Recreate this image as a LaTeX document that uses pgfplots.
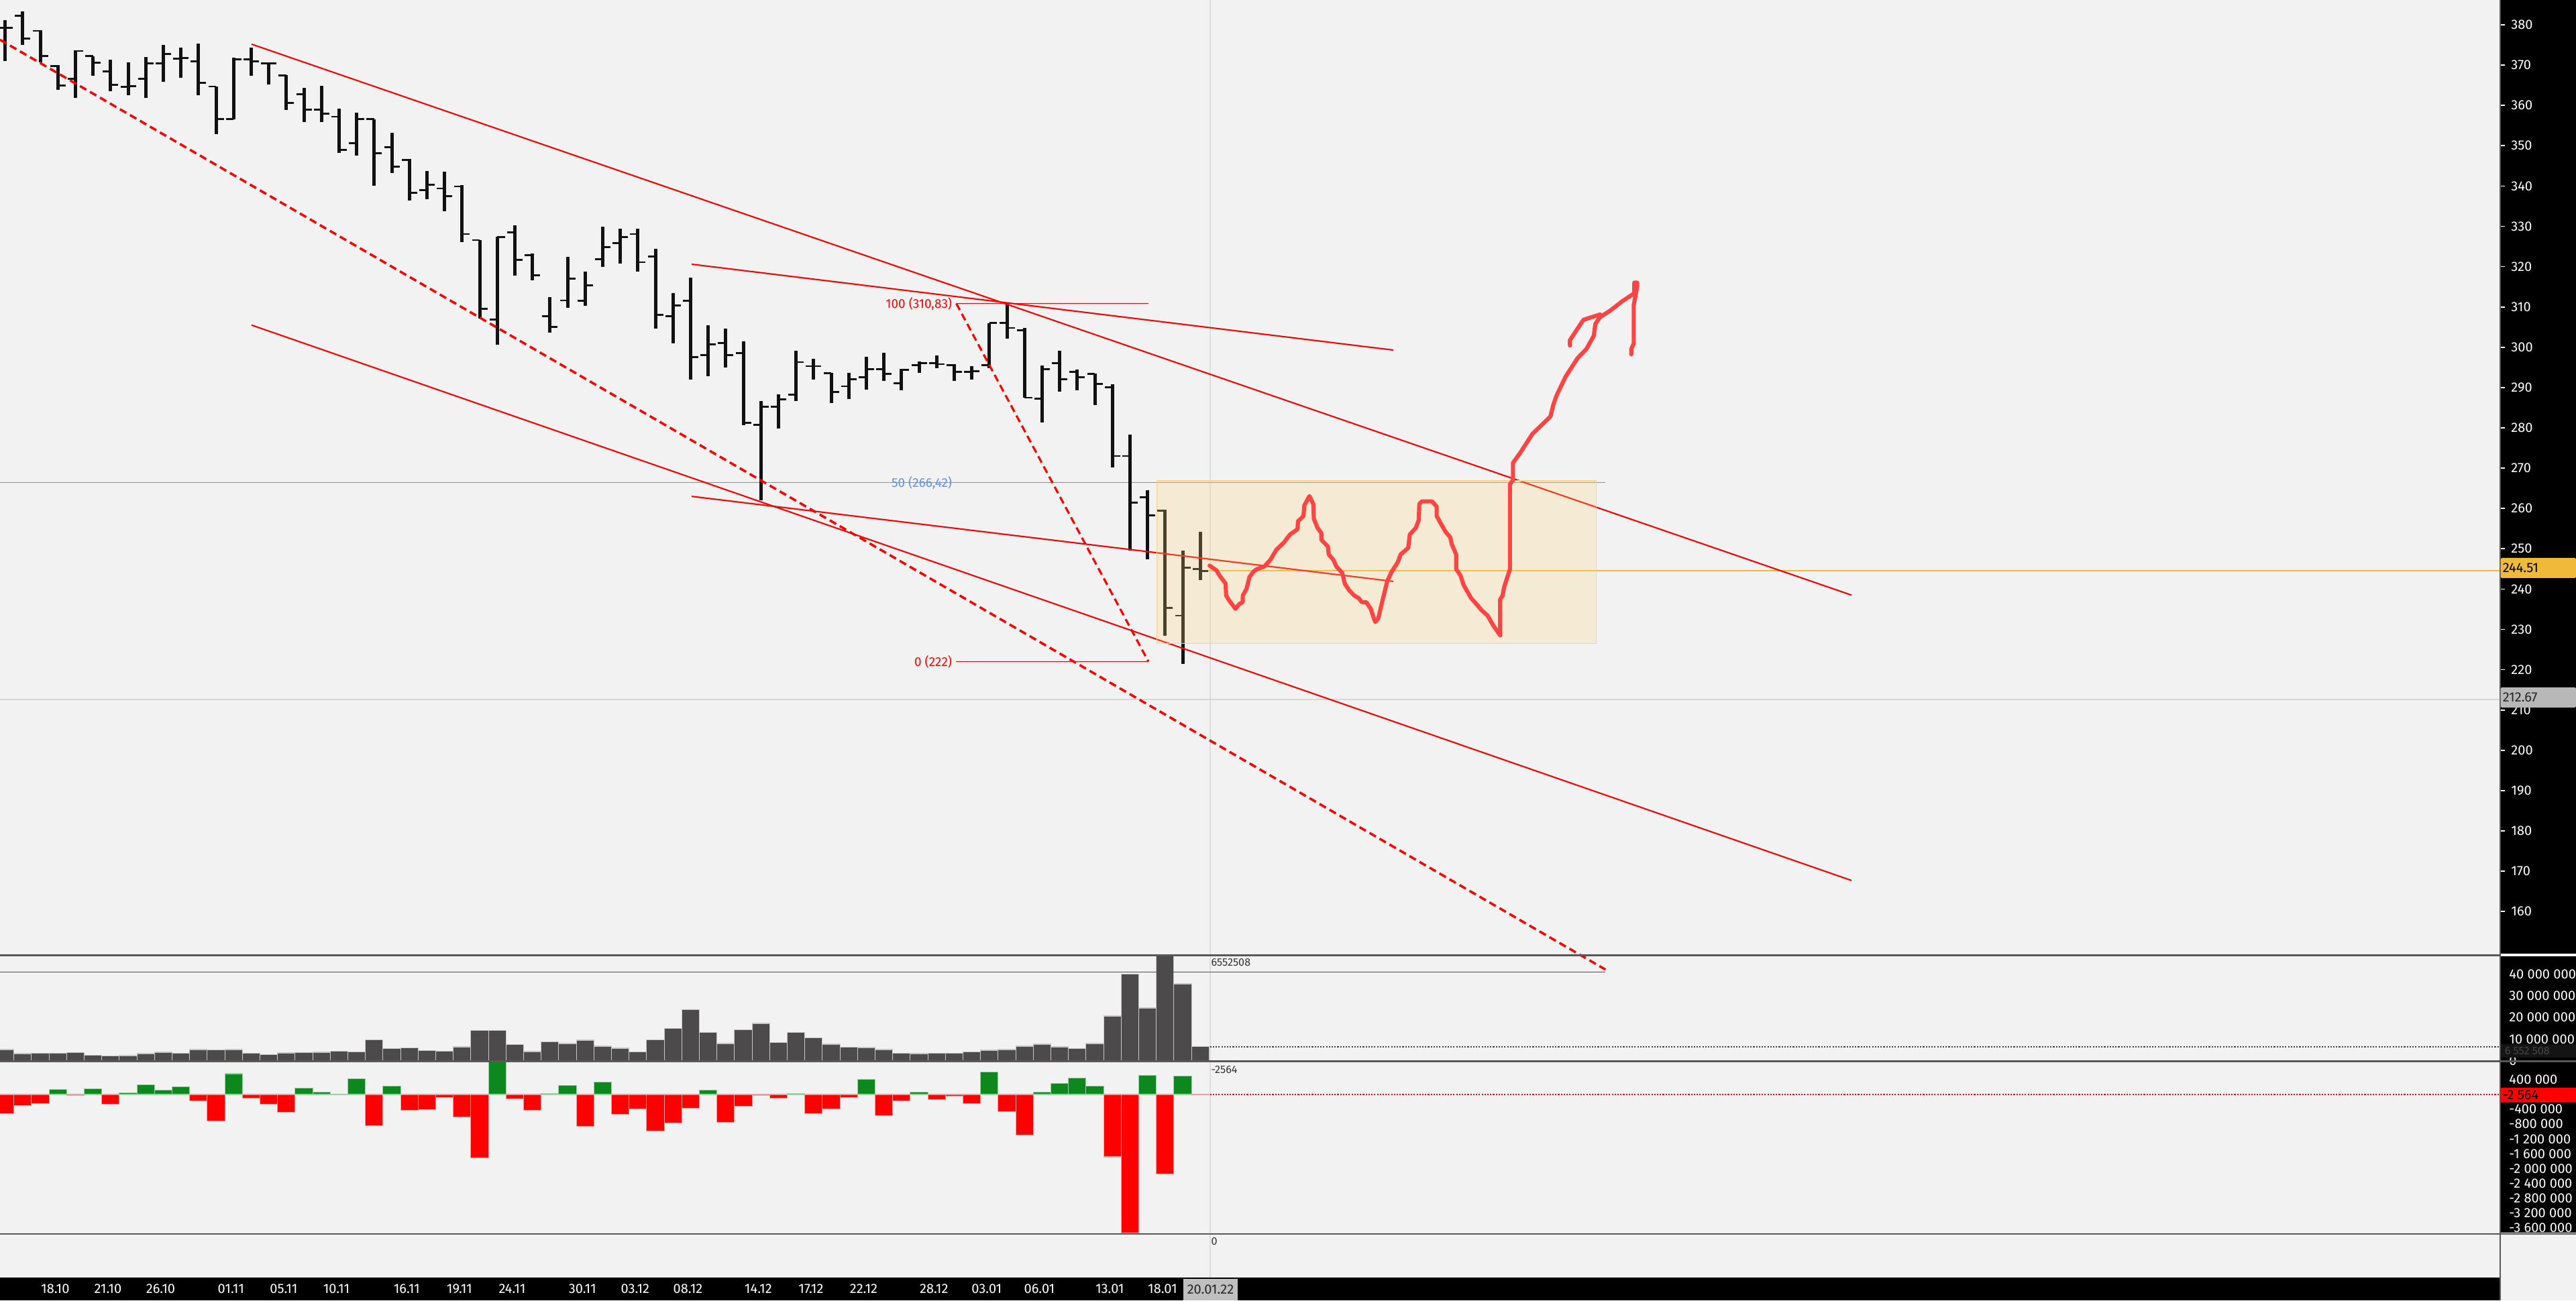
\documentclass[border=0pt]{standalone}
\usepackage{pgfplots}
\pgfplotsset{compat=1.18}
\usepackage{pgfplotstable}
\usepackage{fontspec}
\setmainfont{Fira Sans}
\definecolor{bg}{RGB}{242,242,242}
\definecolor{barblk}{RGB}{17,17,17}
\definecolor{lred}{RGB}{255,0,0}
\definecolor{penred}{RGB}{255,68,68}
\definecolor{fibblue}{RGB}{95,145,240}
\definecolor{volgray}{RGB}{76,74,74}
\definecolor{dgreen}{RGB}{12,136,30}
\definecolor{gold}{RGB}{240,186,56}
\definecolor{rectfill}{RGB}{255,214,120}
\definecolor{rectedge}{RGB}{250,212,140}
\definecolor{sep}{RGB}{88,88,88}
\newcommand\axfont{\fontsize{5.7pt}{6.4pt}\selectfont}
\newcommand\fibfont{\fontsize{5.4pt}{6pt}\selectfont}
\newcommand\smfont{\fontsize{4.6pt}{5pt}\selectfont}

\pgfplotstableread{
i o h l c
-3 379.3 381.2 371.0 379.3
-2 382.3 383.4 375.0 376.6
-1 378.5 378.6 370.7 372.2
0 369.8 370.0 363.9 365.0
1 366.6 373.7 361.8 373.5
2 372.2 372.2 367.4 370.6
3 368.5 371.4 363.5 365.1
4 364.6 370.7 362.6 364.8
5 366.6 372.0 361.9 370.4
6 370.4 375.0 365.9 372.7
7 371.6 374.3 366.8 371.8
8 370.9 375.3 362.6 365.6
9 364.7 364.7 352.9 356.6
10 356.6 371.8 356.6 371.4
11 371.4 374.3 367.4 371.0
12 370.5 370.7 365.2 370.5
13 367.4 367.6 358.9 360.6
14 362.8 364.3 355.9 358.9
15 358.9 364.8 355.8 357.9
16 357.2 359.2 348.2 349.0
17 350.6 358.2 347.5 356.6
18 356.6 356.6 340.1 348.1
19 349.6 353.2 343.2 344.8
20 346.5 346.8 336.4 338.3
21 339.0 343.8 336.8 340.3
22 339.4 343.5 333.8 337.5
23 339.9 340.3 326.1 328.1
24 326.6 326.6 307.2 309.6
25 306.9 327.4 300.6 327.3
26 328.5 330.3 317.7 321.7
27 322.8 323.3 316.6 317.9
28 307.7 312.5 303.6 305.1
29 311.6 322.5 309.8 317.0
30 311.5 318.8 310.3 315.4
31 321.9 329.9 319.9 324.8
32 325.8 329.4 320.8 327.3
33 328.1 329.4 318.8 321.1
34 322.5 324.4 304.6 308.0
35 307.7 313.5 300.9 310.4
36 311.5 317.2 291.9 297.6
37 298.0 305.4 292.8 300.7
38 301.1 304.7 294.9 298.0
39 298.6 301.5 280.7 281.2
40 280.7 286.6 262.0 285.3
41 285.3 288.3 279.9 287.1
42 288.3 299.1 286.6 296.3
43 295.3 297.2 292.0 295.3
44 293.5 293.7 286.1 288.9
45 290.3 293.7 287.1 292.1
46 292.5 297.6 289.5 294.6
47 294.6 298.6 291.7 293.4
48 291.0 294.6 289.4 294.4
49 295.5 296.5 293.7 296.0
50 296.0 297.9 294.8 295.8
51 295.5 295.8 291.7 293.9
52 293.9 295.3 292.0 294.1
53 295.5 306.0 294.8 306.0
54 306.0 310.8 302.1 304.8
55 304.2 304.8 287.5 287.5
56 287.3 295.5 281.4 294.6
57 296.0 299.2 289.0 292.1
58 293.9 294.4 289.3 292.5
59 293.4 293.4 285.6 290.9
60 290.1 290.8 270.2 273.0
61 273.0 278.4 249.6 261.5
62 262.8 264.5 247.4 258.3
63 259.5 259.7 228.4 235.3
64 233.4 249.6 221.5 245.3
65 245.0 254.2 242.3 244.5
}\ohlc

\pgfplotstableread{
i v
-3 5.25
-2 3.40
-1 3.60
0 3.60
1 3.91
2 2.67
3 2.26
4 2.47
5 3.40
6 4.01
7 3.50
8 5.25
9 5.14
10 5.25
11 3.60
12 2.98
13 3.70
14 3.81
15 4.01
16 4.53
17 4.12
18 9.77
19 5.76
20 6.07
21 4.84
22 4.53
23 6.48
24 14.09
25 14.09
26 7.51
27 4.32
28 8.85
29 8.02
30 9.57
31 6.79
32 5.86
33 4.12
34 9.77
35 15.02
36 23.66
37 13.17
38 8.02
39 14.40
40 17.28
41 8.54
42 13.17
43 10.70
44 7.72
45 6.28
46 6.17
47 5.25
48 3.60
49 3.40
50 3.60
51 3.60
52 4.12
53 4.94
54 5.25
55 6.79
56 7.72
57 6.48
58 5.76
59 8.02
60 20.68
61 39.92
62 24.38
63 60.00
64 35.49
65 6.55
}\vol

\pgfplotstableread{
i d
0 0.14
2 0.15
4 0.04
5 0.27
6 0.11
7 0.20
10 0.56
14 0.17
15 0.07
16 0.01
17 0.43
19 0.23
25 0.90
28 0.02
29 0.25
31 0.33
37 0.12
42 0.02
46 0.40
49 0.07
53 0.61
56 0.07
57 0.30
58 0.45
59 0.23
62 0.52
64 0.49
}\dpos

\pgfplotstableread{
i d
-3 -0.51
-2 -0.30
-1 -0.25
1 -0.03
3 -0.27
8 -0.17
9 -0.72
11 -0.10
12 -0.27
13 -0.48
18 -0.84
20 -0.43
21 -0.41
22 -0.08
23 -0.60
24 -1.70
26 -0.12
27 -0.42
30 -0.85
32 -0.53
33 -0.39
34 -0.99
35 -0.77
36 -0.37
38 -0.75
39 -0.32
40 -0.02
41 -0.10
43 -0.52
44 -0.39
45 -0.08
47 -0.57
48 -0.18
50 -0.14
51 -0.05
52 -0.24
54 -0.46
55 -1.10
60 -1.68
61 -3.73
63 -2.14
65 -0.0026
}\dneg

\begin{document}
\begin{tikzpicture}
\path[use as bounding box, fill=bg] (0,0) rectangle (38.40,19.39);
\fill[black] (37.27,5.17) rectangle (38.40,19.39);
\fill[black] (37.27,3.58) rectangle (38.40,5.13);
\fill[black] (37.27,1.01) rectangle (38.40,3.55);
\fill[black] (0,0) rectangle (37.27,0.34);

% ---------------- price panel
\begin{axis}[
 at={(0cm,5.16cm)}, anchor=south west, scale only axis,
 width=37.27cm, height=14.23cm,
 xmin=-3.292, xmax=138.96, ymin=149.38, ymax=386.16,
 clip=false,
 axis line style={draw=none},
 xtick=\empty,
 ytick={160,170,...,380},
 ytick pos=right, yticklabel pos=right,
 tick align=outside, major tick length=0.07cm,
 ytick style={white, line width=0.5pt},
 yticklabel style={text=white, font=\axfont, xshift=-0.03cm},
 /pgf/number format/assume math mode=true,
]
% crosshair and level lines
\addplot[black!13, line width=0.5pt] coordinates {(65.55,149.38) (65.55,386.16)};
\addplot[black!16, line width=0.5pt] coordinates {(-3.292,212.67) (138.96,212.67)};
\addplot[gold, line width=0.45pt] coordinates {(65.3,244.51) (138.96,244.51)};
\addplot[fibblue, line width=0.5pt] coordinates {(-3.292,266.42) (88.05,266.42)};
% OHLC bars
\addplot[forget plot, draw=none, mark=none,
  error bars/.cd, y dir=plus, y explicit, error mark=none,
  error bar style={draw=barblk, line width=1.4pt}]
  table[x=i, y=l, y error plus expr=\thisrow{h}-\thisrow{l}] {\ohlc};
\addplot[forget plot, draw=none, mark=none,
  error bars/.cd, x dir=minus, x explicit, error mark=none,
  error bar style={draw=barblk, line width=0.8pt}]
  table[x=i, y=o, x error minus expr=0.44] {\ohlc};
\addplot[forget plot, draw=none, mark=none,
  error bars/.cd, x dir=plus, x explicit, error mark=none,
  error bar style={draw=barblk, line width=0.8pt}]
  table[x=i, y=c, x error plus expr=0.44] {\ohlc};
% trend lines
\addplot[lred, line width=0.6pt] coordinates {(11.02,375.2) (102.05,238.5)};
\addplot[lred, line width=0.6pt] coordinates {(11.02,305.5) (102.05,167.7)};
\addplot[lred, line width=0.6pt] coordinates {(36.06,320.6) (75.98,299.3)};
\addplot[lred, line width=0.6pt] coordinates {(36.06,263.0) (75.98,241.9)};
\addplot[lred, line width=1.0pt, dash pattern=on 3.1pt off 1.8pt] coordinates {(-3.292,376.3) (88.05,145.6)};
% fibonacci
\addplot[lred, line width=0.4pt] coordinates {(51.1,310.83) (62.05,310.83)};
\addplot[lred, line width=0.4pt] coordinates {(51.1,222.0) (62.05,222.0)};
\addplot[lred, line width=0.9pt, dash pattern=on 3.1pt off 1.8pt] coordinates {(51.12,310.83) (62.05,222.0)};
\node[anchor=east, inner sep=0pt, text=lred, font=\fibfont] at (axis cs:50.9,310.83) {100 (310,83)};
\node[anchor=east, inner sep=0pt, text=fibblue, font=\fibfont] at (axis cs:50.9,266.42) {50 (266,42)};
\node[anchor=east, inner sep=0pt, text=lred, font=\fibfont] at (axis cs:50.9,222.0) {0 (222)};
% zone rectangle
\addplot[draw=rectedge, line width=0.5pt, fill=rectfill, fill opacity=0.25] coordinates {(62.53,226.5) (87.53,226.5) (87.53,266.85) (62.53,266.85)} -- cycle;
% hand drawn projection
\addplot[penred, line width=1.75pt, line join=round, line cap=round] coordinates {
(65.53,245.82) (65.92,244.64) (66.10,243.32) (66.27,242.34) (66.44,241.35) (66.47,238.39)
(66.66,237.07) (66.83,236.09) (67.00,235.10) (67.20,236.22) (67.41,236.75) (67.42,238.39)
(67.63,240.04) (67.80,243.00) (68.02,244.31) (68.23,244.97) (68.65,245.63) (68.99,247.27)
(69.33,249.77) (69.76,251.55) (70.10,253.52) (70.53,254.84) (70.56,256.81) (70.87,258.13)
(70.92,260.76) (71.21,263.06) (71.43,261.09) (71.46,257.47) (71.67,255.17) (71.89,253.85)
(71.89,252.20) (72.26,250.56) (72.31,248.59) (72.57,247.27) (72.74,245.63) (73.08,243.98)
(73.22,241.35) (73.47,239.71) (73.76,238.39) (74.02,237.73) (74.19,236.75) (74.44,236.75)
(74.70,235.10) (74.87,232.80) (74.96,231.81) (75.13,232.80) (75.38,237.41) (75.64,242.01)
(75.89,244.31) (76.23,246.61) (76.40,248.59) (76.83,250.23) (76.92,253.52) (77.26,255.17)
(77.43,257.14) (77.46,261.09) (77.60,261.75) (78.19,261.75) (78.45,260.43) (78.45,258.13)
(78.70,256.15) (78.96,254.18) (79.22,252.86) (79.30,251.22) (79.56,248.59) (79.56,244.97)
(79.81,243.32) (79.98,241.02) (80.24,239.05) (80.41,237.73) (80.75,236.09) (81.00,234.77)
(81.34,233.45) (81.69,230.82) (82.06,228.52) (82.06,237.41) (82.20,238.39) (82.28,240.36)
(82.45,242.67) (82.62,244.97) (82.62,266.02) (82.79,267.01) (82.79,271.29) (83.22,273.92)
(83.90,278.52) (84.92,282.80) (85.09,285.76) (85.26,287.93) (85.78,292.67) (86.46,297.27)
(86.97,299.57) (87.39,302.86) (87.48,305.82) (87.74,307.47) (88.33,309.11) (89.01,311.42)
(89.69,313.39) (89.69,316.02) (89.86,316.02) (89.86,315.04) (89.66,310.43) (89.66,300.89)
(89.52,299.57) (89.52,298.26)};
\addplot[penred, line width=1.75pt, line join=round, line cap=round] coordinates {
(87.74,308.13) (86.80,306.81) (86.03,301.75) (86.03,300.43)};
\end{axis}

% ---------------- volume panel
\begin{axis}[
 at={(0cm,3.56cm)}, anchor=south west, scale only axis,
 width=37.27cm, height=1.57cm,
 xmin=-3.292, xmax=138.96, ymin=-0.31, ymax=48.15,
 axis line style={draw=none},
 xtick=\empty,
 ytick={0,10,20,30,40},
 yticklabels={0,10 000 000,20 000 000,30 000 000,40 000 000},
 ytick pos=right, yticklabel pos=right,
 ytick style={draw=none},
 yticklabel style={text=white, font=\axfont, xshift=0.01cm},
]
\addplot[black!13, line width=0.5pt] coordinates {(65.55,-0.31) (65.55,48.15)};
\addplot[ybar, bar width=1, bar shift=0pt, fill=volgray, draw=black!22, line width=0.3pt] table[x=i, y=v] {\vol};
\addplot[lred, line width=0.4pt] coordinates {(-3.292,40.9) (88.05,40.9)};
\addplot[black!75, line width=0.5pt, dash pattern=on 0.6pt off 0.6pt] coordinates {(65.55,6.55) (138.96,6.55)};
\node[anchor=north west, inner sep=0pt, text=black!80, font=\smfont] at (axis cs:65.6,47.3) {6552508};
\end{axis}

% ---------------- delta panel
\begin{axis}[
 at={(0cm,0.983cm)}, anchor=south west, scale only axis,
 width=37.27cm, height=2.577cm,
 xmin=-3.292, xmax=138.96, ymin=-3.77, ymax=0.885,
 clip=false,
 axis line style={draw=none},
 xtick={-0.15,2.85,5.85,9.85,12.85,15.85,19.85,22.85,25.85,29.85,32.85,35.85,39.85,42.85,45.85,49.85,52.85,55.85,59.85,62.85},
 xticklabels={18.10,21.10,26.10,01.11,05.11,10.11,16.11,19.11,24.11,30.11,03.12,08.12,14.12,17.12,22.12,28.12,03.01,06.01,13.01,18.01},
 xtick style={draw=none},
 xticklabel style={anchor=center, text=white, font=\axfont, yshift=-0.813cm},
 ytick={0.4,-0.4,-0.8,-1.2,-1.6,-2.0,-2.4,-2.8,-3.2,-3.6},
 yticklabels={400 000,-400 000,-800 000,-1 200 000,-1 600 000,-2 000 000,-2 400 000,-2 800 000,-3 200 000,-3 600 000},
 ytick pos=right, yticklabel pos=right,
 ytick style={draw=none},
 yticklabel style={text=white, font=\axfont, xshift=0.01cm},
]
\addplot[black!13, line width=0.5pt] coordinates {(65.55,-4.93) (65.55,0.885)};
\addplot[ybar, bar width=1, bar shift=0pt, fill=dgreen, draw=dgreen!40, line width=0.3pt] table[x=i, y=d] {\dpos};
\addplot[ybar, bar width=1, bar shift=0pt, fill=lred, draw=lred!40, line width=0.3pt] table[x=i, y=d] {\dneg};
\addplot[lred, line width=0.5pt, dash pattern=on 0.6pt off 0.6pt] coordinates {(65.55,-0.0026) (138.96,-0.0026)};
\node[anchor=north west, inner sep=0pt, text=black!80, font=\smfont] at (axis cs:65.6,0.78) {-2564};
\node[anchor=north west, inner sep=0pt, text=black!80, font=\smfont] at (axis cs:65.6,-3.84) {0};
\end{axis}

% separators
\draw[sep, line width=0.75pt] (0,5.145) -- (37.27,5.145);
\draw[white, line width=0.75pt] (37.27,5.15) -- (38.40,5.15);
\draw[sep, line width=0.75pt] (0,3.565) -- (38.40,3.565);
\draw[sep, line width=0.75pt] (0,0.99) -- (38.40,0.99);
\draw[sep, line width=0.5pt] (37.27,0) -- (37.27,19.39);

% price boxes on axis
\fill[gold, rounded corners=0.5pt] (37.275,10.77) rectangle (38.40,11.07);
\node[anchor=west, inner sep=0pt, font=\axfont, text=black] at (37.30,10.92) {244.51};
\fill[black!28, rounded corners=0.5pt] (37.275,8.84) rectangle (38.40,9.14);
\node[anchor=west, inner sep=0pt, font=\axfont, text=black!85] at (37.30,8.99) {212.67};
\fill[black!92] (37.275,3.62) rectangle (38.40,3.82);
\node[anchor=west, inner sep=0pt, font=\smfont, text=black!72] at (37.33,3.72) {6 552 508};
\fill[lred] (37.275,2.953) rectangle (38.40,3.174);
\node[anchor=west, inner sep=0pt, font=\axfont, text=black] at (37.30,3.063) {-2 564};
% current date box
\fill[black!25] (17.64,0) rectangle (18.45,0.32);
\node[inner sep=0pt, font=\axfont, text=black!85] at (18.045,0.16) {20.01.22};
\end{tikzpicture}
\end{document}
